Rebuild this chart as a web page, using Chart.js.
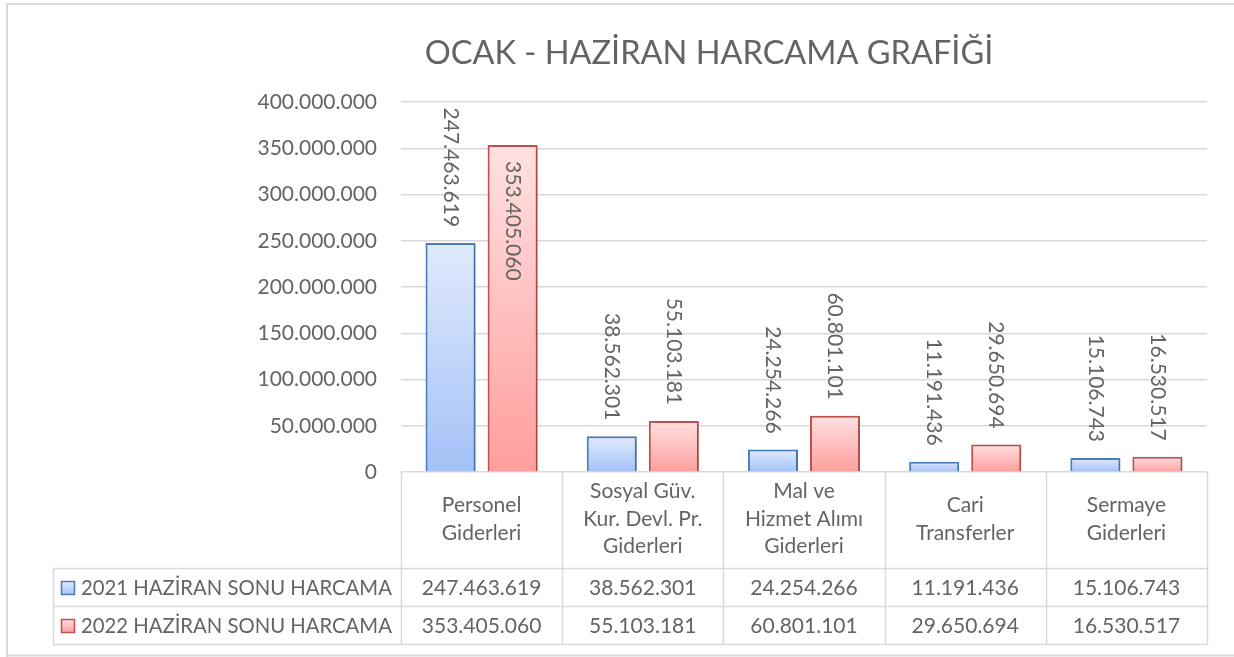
<!DOCTYPE html>
<html>
<head>
<meta charset="utf-8">
<script src="https://cdn.jsdelivr.net/npm/chart.js@4.4.1/dist/chart.umd.min.js"></script>
<style>
html, body { margin: 0; padding: 0; background: #fff; }
#wrap { position: absolute; left: 0; top: 0; width: 1234px; height: 657px; }
</style>
</head>
<body>
<div id="wrap"><canvas id="harcamaChart" width="1234" height="657"></canvas></div>
<script>
// veriler
var chartTitle = "OCAK - HAZİRAN HARCAMA GRAFİĞİ";
var categories = [
    ["Personel", "Giderleri"],
    ["Sosyal Güv.", "Kur. Devl. Pr.", "Giderleri"],
    ["Mal ve", "Hizmet Alımı", "Giderleri"],
    ["Cari", "Transferler"],
    ["Sermaye", "Giderleri"]
];
var seriesNames = ["2021 HAZİRAN SONU HARCAMA", "2022 HAZİRAN SONU HARCAMA"];
var harcama2021 = [247463619, 38562301, 24254266, 11191436, 15106743];
var harcama2022 = [353405060, 55103181, 60801101, 29650694, 16530517];
var yTicks = [0, 50000000, 100000000, 150000000, 200000000, 250000000, 300000000, 350000000, 400000000];

var FONT = "Lato, 'Open Sans', sans-serif";
var TEXT = "#646464";
var LINE = "#d9d9d9";

var renkler = [
    { top: "#e1eafc", bottom: "#a3c1f7", border: "#4a7ebb" },
    { top: "#ffe1e1", bottom: "#ff9e9e", border: "#c0504d" }
];

function fmt(v) {
    return String(v).replace(/\B(?=(\d{3})+(?!\d))/g, ".");
}

function barGradient(i) {
    return function (ctx) {
        var chart = ctx.chart;
        var y = chart.scales.y;
        if (!chart.chartArea || !y || ctx.raw === undefined) return renkler[i].bottom;
        var top = y.getPixelForValue(ctx.raw);
        var base = y.getPixelForValue(0);
        var g = chart.ctx.createLinearGradient(0, top, 0, base);
        g.addColorStop(0, renkler[i].top);
        g.addColorStop(1, renkler[i].bottom);
        return g;
    };
}

// cerceve, baslik, deger etiketleri ve veri tablosu
var excelPlugin = {
    id: "excelStil",
    beforeDatasetsDraw: function (chart) {
        var c = chart.ctx;
        c.save();
        c.shadowColor = "rgba(0,0,0,0.25)";
        c.shadowBlur = 3;
        c.shadowOffsetX = 1;
        c.shadowOffsetY = 1;
    },
    afterDatasetsDraw: function (chart) {
        var c = chart.ctx;
        c.restore();
        var area = chart.chartArea;
        c.save();
        c.font = "21px " + FONT;
        c.fillStyle = TEXT;
        c.textBaseline = "middle";
        c.textAlign = "left";
        chart.data.datasets.forEach(function (ds, di) {
            var meta = chart.getDatasetMeta(di);
            meta.data.forEach(function (bar, i) {
                var txt = fmt(ds.data[i]);
                var w = c.measureText(txt).width;
                var off = 16;
                var start = bar.y - off - w;
                if (start < area.top) start = bar.y + off;
                c.save();
                c.translate(bar.x, start);
                c.rotate(Math.PI / 2);
                c.fillText(txt, 0, 0);
                c.restore();
            });
        });
        c.restore();
    },
    afterDraw: function (chart) {
        var c = chart.ctx;
        var area = chart.chartArea;
        var x = chart.scales.x;
        var n = categories.length;
        var colW = (area.right - area.left) / n;
        var headBottom = area.bottom + 96;
        var rowH = 38;
        var tableLeft = 53;

        c.save();
        // dis cerceve
        c.strokeStyle = LINE;
        c.lineWidth = 2;
        c.beginPath();
        c.moveTo(7, 660);
        c.lineTo(7, 4);
        c.lineTo(1240, 4);
        c.moveTo(7, 655.5);
        c.lineTo(1240, 655.5);
        c.stroke();

        // baslik
        c.fillStyle = TEXT;
        c.font = "32.5px " + FONT;
        c.textAlign = "center";
        c.textBaseline = "middle";
        c.fillText(chartTitle, 709, 54);

        // tablo cizgileri
        c.lineWidth = 1.5;
        c.beginPath();
        for (var k = 0; k <= n; k++) {
            var bx = Math.round(area.left + k * colW) + 0.5;
            c.moveTo(bx, area.bottom);
            c.lineTo(bx, headBottom + rowH * 2);
        }
        for (var r = 0; r <= 2; r++) {
            var ry = Math.round(headBottom + r * rowH) + 0.5;
            c.moveTo(tableLeft, ry);
            c.lineTo(area.right + 0.5, ry);
        }
        c.moveTo(tableLeft + 0.5, headBottom);
        c.lineTo(tableLeft + 0.5, headBottom + rowH * 2);
        c.stroke();

        // kategori basliklari
        c.font = "21px " + FONT;
        c.fillStyle = TEXT;
        var lh = 27.5;
        var headMid = area.bottom + 47;
        categories.forEach(function (lines, i) {
            var cx = x.getPixelForValue(i);
            var y0 = headMid - (lines.length - 1) * lh / 2;
            lines.forEach(function (t, j) {
                c.fillText(t, cx, y0 + j * lh);
            });
        });

        // satirlar
        var rows = [harcama2021, harcama2022];
        rows.forEach(function (vals, r) {
            var cy = headBottom + r * rowH + rowH / 2 + 1;
            c.font = "21px " + FONT;
            c.textAlign = "center";
            vals.forEach(function (v, i) {
                c.fillText(fmt(v), x.getPixelForValue(i), cy);
            });
            // lejant anahtari
            var g = c.createLinearGradient(0, cy - 7, 0, cy + 7);
            g.addColorStop(0, renkler[r].top);
            g.addColorStop(1, renkler[r].bottom);
            c.fillStyle = g;
            c.fillRect(61, cy - 7, 14, 14);
            c.strokeStyle = renkler[r].border;
            c.lineWidth = 1.5;
            c.strokeRect(61.5, cy - 6.5, 13, 13);
            c.fillStyle = TEXT;
            c.textAlign = "left";
            c.font = "20.3px " + FONT;
            c.fillText(seriesNames[r], 81, cy);
        });
        c.restore();
    }
};

var ctx = document.getElementById("harcamaChart").getContext("2d");
new Chart(ctx, {
    type: "bar",
    data: {
        labels: categories.map(function (l) { return l.join(" "); }),
        datasets: [{
            label: seriesNames[0],
            data: harcama2021,
            backgroundColor: barGradient(0),
            borderColor: renkler[0].border,
            borderWidth: 2
        }, {
            label: seriesNames[1],
            data: harcama2022,
            backgroundColor: barGradient(1),
            borderColor: renkler[1].border,
            borderWidth: 2
        }]
    },
    options: {
        responsive: false,
        animation: false,
        devicePixelRatio: 1,
        categoryPercentage: 0.77,
        barPercentage: 0.806,
        layout: { padding: { top: 102, left: 0, right: 27, bottom: 185 } },
        plugins: {
            legend: { display: false },
            tooltip: { enabled: false },
            title: { display: false }
        },
        scales: {
            x: { display: false },
            y: {
                min: 0,
                max: yTicks[yTicks.length - 1],
                afterFit: function (scale) { scale.width = 401; },
                afterBuildTicks: function (scale) {
                    scale.ticks = yTicks.map(function (v) { return { value: v }; });
                },
                border: { display: false },
                grid: { color: LINE, lineWidth: 1.5, drawTicks: false },
                ticks: {
                    padding: 24,
                    color: TEXT,
                    font: { family: FONT, size: 21 },
                    callback: function (v) { return fmt(v); }
                }
            }
        }
    },
    plugins: [excelPlugin]
});
</script>
</body>
</html>
